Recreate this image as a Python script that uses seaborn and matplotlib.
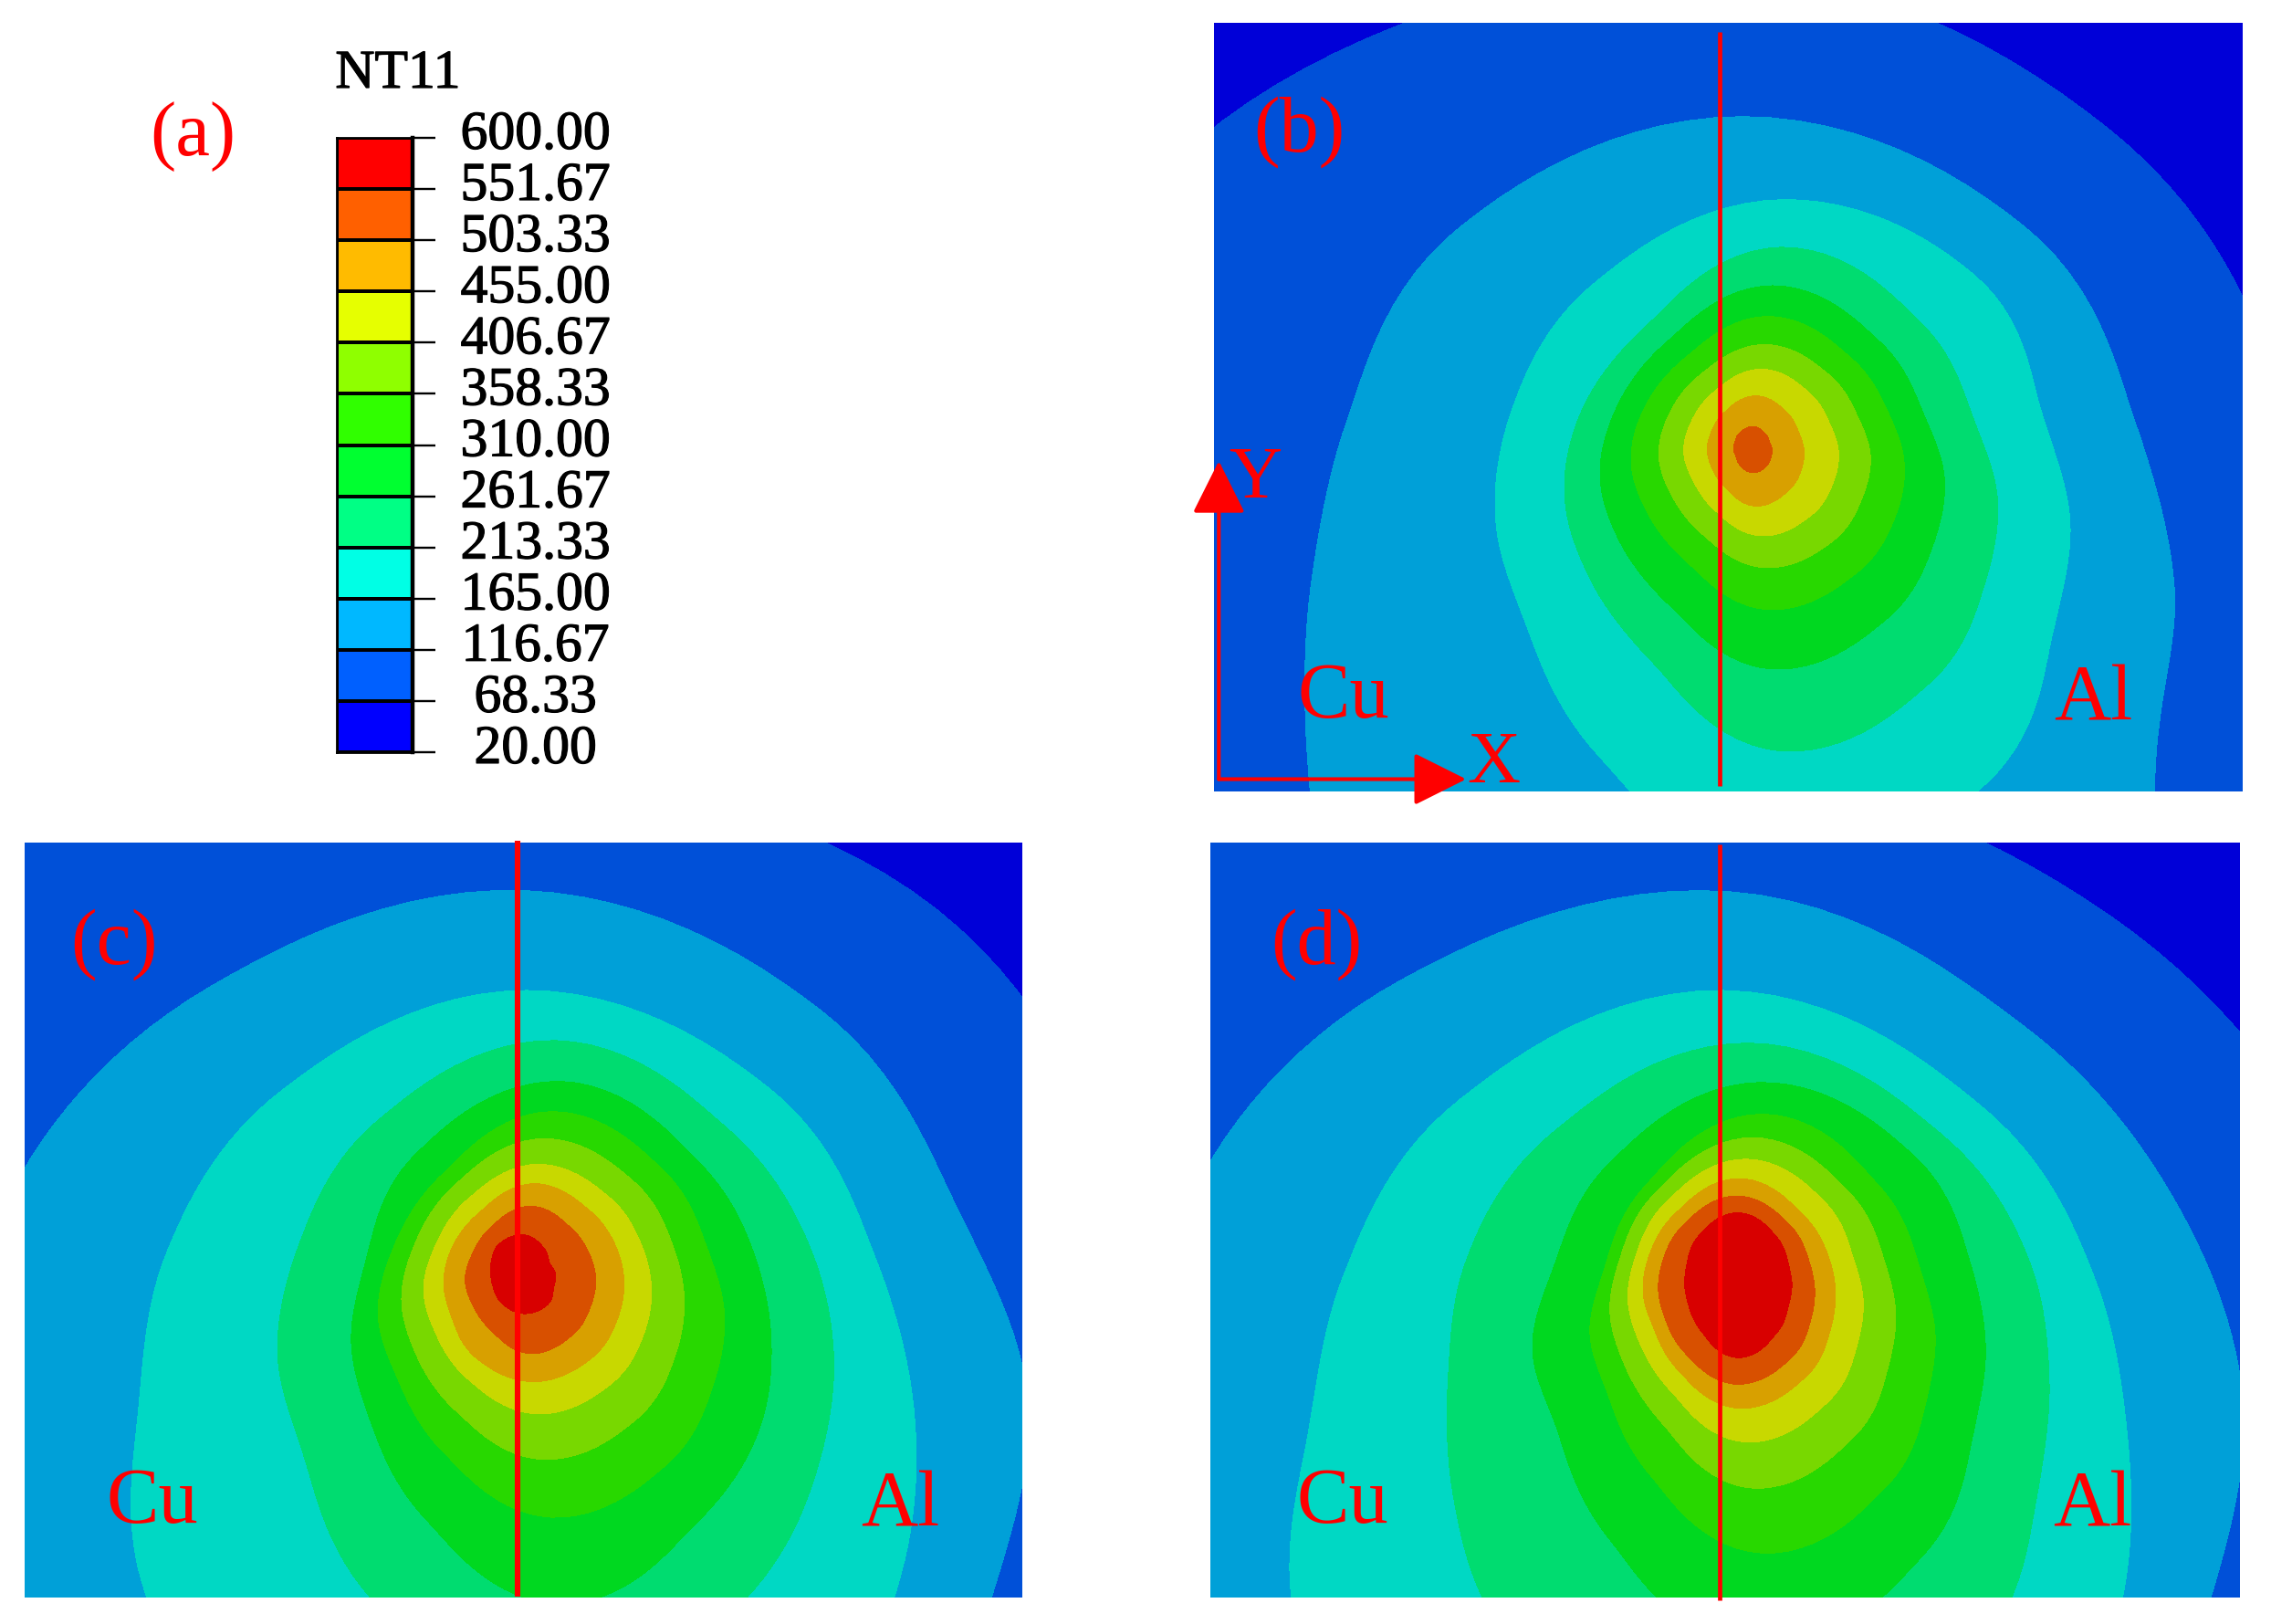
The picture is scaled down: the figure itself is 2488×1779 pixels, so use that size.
import numpy as np
import matplotlib
matplotlib.use("Agg")
import matplotlib.pyplot as plt
import matplotlib.patheffects as pe
from matplotlib.colors import ListedColormap, BoundaryNorm
import seaborn as sns

# --- legend values ---
nt11_levels = [20.00, 68.33, 116.67, 165.00, 213.33, 261.67, 310.00, 358.33, 406.67, 455.00, 503.33, 551.67, 600.00]
nt11_labels = ["20.00", "68.33", "116.67", "165.00", "213.33", "261.67", "310.00", "358.33", "406.67", "455.00", "503.33", "551.67", "600.00"]
legend_colors = ["#0000ff", "#0060ff", "#00b8ff", "#00ffe5", "#00ff85", "#00ff30", "#30ff00", "#8fff00", "#e6ff00", "#ffbb00", "#ff6000", "#ff0000"]
field_colors = ["#0000d8", "#0050d8", "#00a0d8", "#00d8c4", "#00dc70", "#00d820", "#28d800", "#78d800", "#c8d800", "#d8a000", "#d85000", "#d80000"]

# --- each isotherm: middle of the oval, and its distance from there along these rays (deg, clockwise from +X) ---
ray_angles = [0, 30, 60, 90, 120, 150, 180, 210, 240, 270, 300, 330]

# one entry per isotherm, 68.33 upwards
b_mid_x = [815, 803, 861, 859, 846, 840, 835, 830, 822, 818]
b_mid_y = [1130, 1130, 1000, 956, 914, 886, 872, 865, 862, 860]
panel_b = [
    [790, 900, 1100, 1300, 1300, 1100, 950, 1130, 1205, 1200, 1035, 870],
    [625, 690, 1000, 1250, 1000, 725, 625, 660, 815, 920, 815, 655],
    [416, 450, 590, 690, 530, 425, 415, 450, 540, 628, 555, 432],
    [313, 339, 421, 492, 370, 318, 313, 335, 390, 491, 400, 320],
    [249, 268, 324, 374, 292, 254, 249, 262, 305, 374, 308, 252],
    [197, 212, 251, 286, 228, 200, 198, 208, 238, 286, 238, 200],
    [153, 163, 194, 218, 178, 155, 153, 160, 184, 217, 184, 155],
    [112, 120, 143, 163, 132, 113, 112, 117, 136, 162, 136, 114],
    [70, 76, 92, 108, 85, 72, 70, 74, 88, 107, 88, 72],
    [28, 30, 38, 45, 36, 28, 28, 30, 38, 45, 36, 28],
]
c_mid_x = [785, 785, 787, 830, 838, 823, 811, 803, 797, 792, 782]
c_mid_y = [1130, 1130, 1150, 1040, 1020, 964, 934, 914, 902, 896, 885]
panel_c = [
    [950, 1000, 1200, 1400, 1300, 1200, 1100, 1300, 1400, 1250, 1150, 1000],
    [750, 800, 1000, 1100, 1000, 880, 830, 872, 935, 995, 880, 745],
    [578, 645, 800, 1000, 800, 665, 580, 620, 725, 820, 725, 600],
    [415, 451, 560, 710, 552, 430, 415, 440, 528, 612, 510, 435],
    [314, 341, 405, 510, 400, 325, 313, 335, 430, 512, 410, 335],
    [259, 279, 341, 396, 315, 262, 258, 270, 320, 397, 330, 268],
    [211, 227, 274, 313, 255, 218, 211, 220, 260, 314, 268, 222],
    [170, 182, 216, 244, 205, 175, 170, 175, 205, 244, 210, 178],
    [135, 144, 171, 193, 170, 140, 134, 140, 160, 194, 165, 142],
    [98, 104, 125, 144, 115, 99, 97, 100, 118, 144, 119, 102],
    [48, 52, 70, 77, 65, 52, 49, 55, 70, 77, 60, 45],
]
d_mid_x = [785, 785, 775, 812, 828, 832, 818, 808, 799, 795, 797]
d_mid_y = [1130, 1130, 1200, 1090, 1030, 1000, 960, 936, 922, 916, 906]
panel_d = [
    [950, 1000, 1200, 1400, 1300, 1200, 1100, 1300, 1400, 1250, 1095, 985],
    [742, 800, 1000, 1100, 1000, 880, 830, 880, 948, 993, 846, 750],
    [585, 665, 850, 1000, 900, 715, 600, 632, 759, 870, 745, 620],
    [435, 480, 640, 800, 640, 490, 434, 470, 560, 657, 555, 468],
    [327, 355, 470, 585, 432, 335, 328, 340, 425, 520, 440, 350],
    [250, 273, 352, 430, 322, 255, 249, 262, 335, 428, 335, 262],
    [207, 225, 286, 343, 255, 212, 206, 220, 275, 342, 275, 218],
    [170, 185, 233, 277, 210, 175, 170, 182, 225, 276, 225, 178],
    [139, 151, 190, 225, 175, 142, 139, 150, 182, 224, 180, 148],
    [113, 123, 155, 184, 145, 118, 113, 122, 150, 184, 150, 120],
    [78, 84, 110, 142, 105, 82, 77, 85, 112, 141, 110, 84],
]
peak_b, peak_c, peak_d = 530, 590, 590

W, H = 2488, 1779
sns.set_theme(style="white")
plt.rcParams["font.family"] = ["Liberation Serif", "DejaVu Serif"]
fig = plt.figure(figsize=(W / 100, H / 100), dpi=100, facecolor="white")


def px_axes(x0, y0, x1, y1):
    return fig.add_axes([x0 / W, 1 - y1 / H, (x1 - x0) / W, (y1 - y0) / H])


def closed_spline(p, sub=12):
    # closed Catmull-Rom through the read radii, only to round the polygon corners
    p = np.asarray(p, dtype=float)
    t = np.arange(sub) / sub
    out = []
    n = len(p)
    for i in range(n):
        p0, p1, p2, p3 = p[i - 1], p[i], p[(i + 1) % n], p[(i + 2) % n]
        out.append(0.5 * (2 * p1 + (p2 - p0) * t + (2 * p0 - 5 * p1 + 4 * p2 - p3) * t**2
                          + (3 * p1 - p0 - 3 * p2 + p3) * t**3))
    out = np.concatenate(out)
    return np.append(out, out[0])


def draw_field(ax, rows, mid_x, mid_y, peak):
    levels = nt11_levels[1:len(rows) + 1]
    rings = [[3000] * len(ray_angles)] + rows + [[0] * len(ray_angles)]
    xs = [mid_x[0]] + mid_x + [mid_x[-1]]
    ys = [mid_y[0]] + mid_y + [mid_y[-1]]
    R = np.array([closed_spline(r) for r in rings])
    theta = np.linspace(0, 2 * np.pi, R.shape[1])
    X = np.array(xs)[:, None] + R * np.cos(theta)
    Y = np.array(ys)[:, None] + R * np.sin(theta)
    Z = np.array([20.0] + levels + [peak])[:, None] * np.ones_like(X)
    ax.contourf(X, Y, Z, levels=nt11_levels, colors=field_colors, antialiased=False)


# --- (a) legend ---
heavy = [pe.withStroke(linewidth=0.9, foreground="black")]
ax_key = px_axes(369, 151, 452, 824)
key_data = np.array(nt11_levels[:-1])[::-1].reshape(-1, 1) + 1
sns.heatmap(key_data, ax=ax_key, cbar=False, cmap=ListedColormap(legend_colors),
            norm=BoundaryNorm(nt11_levels, 12), linewidths=1.6, linecolor="black",
            xticklabels=False, yticklabels=False)
for side in ax_key.spines:
    ax_key.spines[side].set_visible(True)
    ax_key.spines[side].set_color("black")
    ax_key.spines[side].set_linewidth(2.0)
ax_key.spines["right"].set_linewidth(3.2)
ax_key.yaxis.tick_right()
ax_key.set_yticks(range(13))
ax_key.set_yticklabels([])
ax_key.tick_params(axis="y", right=True, left=False, length=18, width=1.7, color="black", pad=0)
for i, lab in enumerate(nt11_labels[::-1]):
    ax_key.annotate(lab, xy=(1, i), xycoords=("axes fraction", "data"), xytext=(97, 1.5),
                    textcoords="offset points", ha="center", va="center",
                    fontsize=43, color="black", path_effects=heavy)
fig.text(436 / W, 1 - 82 / H, "NT11", ha="center", va="center", fontsize=43, color="black", path_effects=heavy)
fig.text(211 / W, 1 - 149 / H, "(a)", ha="center", va="center", fontsize=61, color="red")

# --- field panels, in the coordinates the isotherms were read in ---
panels = [
    ((1330, 25, 2457, 867), (38, 1527, 1527, 27), panel_b, b_mid_x, b_mid_y, peak_b, (770, 45, 1517), 3.4),
    ((27, 923, 1120, 1750), (37, 1527, 1517, 41), panel_c, c_mid_x, c_mid_y, peak_c, (773, 37, 1515), 4.4),
    ((1326, 923, 2454, 1750), (34, 1523, 1517, 41), panel_d, d_mid_x, d_mid_y, peak_d, (770, 45, 1522), 3.4),
]
panel_axes = []
for box, lims, rows, mid_x, mid_y, peak, seam, seam_w in panels:
    ax = px_axes(*box)
    ax.set_facecolor(field_colors[0])
    draw_field(ax, rows, mid_x, mid_y, peak)
    ax.set_xlim(lims[0], lims[1])
    ax.set_ylim(lims[2], lims[3])
    ax.set_xticks([])
    ax.set_yticks([])
    sns.despine(ax=ax, left=True, bottom=True)
    ax.plot([seam[0], seam[0]], [seam[1], seam[2]], color="#ff0000", lw=seam_w, clip_on=False,
            solid_capstyle="butt", zorder=5)
    panel_axes.append(ax)

ax_b, ax_c, ax_d = panel_axes


def red_text(ax, x, y, s, size=62):
    ax.text(x, y, s, color="red", ha="center", va="center", fontsize=size, clip_on=False, zorder=6)


red_text(ax_b, 162, 240, "(b)")
red_text(ax_b, 225, 1346, "Cu")
red_text(ax_b, 1310, 1351, "Al")
red_text(ax_b, 443, 1475, "X", 58)
red_text(ax_b, 97, 918, "Y", 58)
red_text(ax_c, 170, 240, "(c)")
red_text(ax_c, 227, 1333, "Cu")
red_text(ax_c, 1345, 1339, "Al")
red_text(ax_d, 188, 240, "(d)")
red_text(ax_d, 225, 1333, "Cu")
red_text(ax_d, 1310, 1339, "Al")

# XY triad in panel b
for tip in [(45, 882), (403, 1503)]:
    ax_b.annotate("", xy=tip, xytext=(45, 1503), annotation_clip=False, zorder=6,
                  arrowprops=dict(arrowstyle="-|>,head_length=1.0,head_width=0.5", mutation_scale=36,
                                  color="red", lw=3, shrinkA=0, shrinkB=0))

fig.savefig("out.png", dpi=100)
